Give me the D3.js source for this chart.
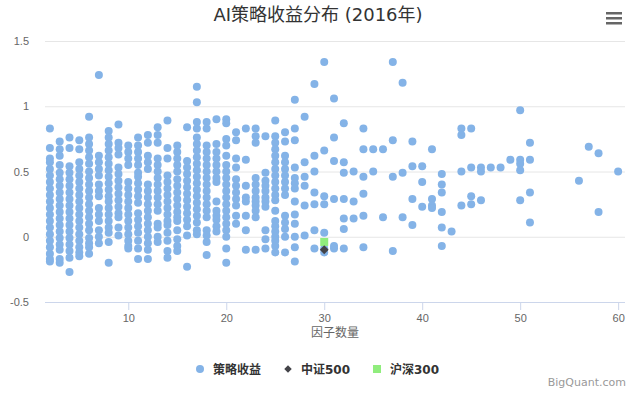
<!DOCTYPE html>
<html lang="zh">
<head>
    <meta charset="UTF-8">
    <title>AI策略收益分布 (2016年)</title>
    <style>
        body {
            margin: 0;
            background: #fff;
            font-family: "Lucida Grande", "Lucida Sans Unicode", "DejaVu Sans", "Noto Sans CJK SC", sans-serif;
        }
        .tick text {
            fill: #666;
            font-size: 11px;
        }
    </style>
</head>
<body>
    <div id="chart"></div>

    <script src="https://d3js.org/d3.v7.min.js"></script>
    <script>
        const width = 636;
        const height = 395;
        const margin = { top: 41, right: 11, bottom: 93, left: 45 };

        // number of factors used, and the strategy returns seen for that count
        const factorCounts = [2, 3, 4, 5, 6, 7, 8, 9, 10, 11, 12, 13, 14, 15, 16, 17, 18, 19, 20,
            21, 22, 23, 24, 25, 26, 27, 28, 29, 30, 31, 32, 33, 34, 35, 36, 37, 38, 39, 40,
            41, 42, 43, 44, 45, 46, 47, 48, 49, 50, 51, 56, 57, 58, 60];

        const strategyReturns = [
            [0.83, 0.68, 0.6, 0.57, 0.52, 0.47, 0.42, 0.37, 0.32, 0.27, 0.22, 0.17, 0.12, 0.07, 0.02, -0.03, -0.08, -0.13, -0.17, -0.19],
            [0.73, 0.67, 0.62, 0.55, 0.49, 0.44, 0.39, 0.34, 0.29, 0.24, 0.19, 0.14, 0.09, 0.04, -0.01, -0.06, -0.1, -0.17, -0.2],
            [0.76, 0.68, 0.54, 0.49, 0.44, 0.39, 0.34, 0.29, 0.24, 0.19, 0.14, 0.09, 0.04, -0.01, -0.06, -0.11, -0.16, -0.27],
            [0.74, 0.67, 0.57, 0.52, 0.47, 0.42, 0.37, 0.32, 0.27, 0.22, 0.17, 0.12, 0.07, 0.02, -0.03, -0.08, -0.12, -0.15],
            [0.92, 0.76, 0.71, 0.66, 0.61, 0.56, 0.5, 0.45, 0.4, 0.35, 0.3, 0.25, 0.2, 0.15, 0.1, 0.05, -0.01, -0.05, -0.08, -0.13],
            [1.24, 0.62, 0.57, 0.52, 0.47, 0.4, 0.35, 0.31, 0.22, 0.17, 0.12, 0.05, 0.0, -0.05],
            [0.81, 0.76, 0.71, 0.66, 0.61, 0.56, 0.51, 0.46, 0.41, 0.36, 0.31, 0.27, 0.22, 0.17, 0.12, 0.07, 0.03, -0.04, -0.2],
            [0.86, 0.72, 0.68, 0.63, 0.53, 0.48, 0.43, 0.38, 0.33, 0.28, 0.23, 0.18, 0.15, 0.07, 0.01],
            [0.7, 0.65, 0.6, 0.55, 0.42, 0.37, 0.32, 0.27, 0.22, 0.17, 0.12, 0.07, 0.02, -0.03, -0.07, -0.09],
            [0.76, 0.7, 0.65, 0.6, 0.55, 0.49, 0.46, 0.41, 0.36, 0.31, 0.26, 0.18, 0.13, 0.08, 0.03, -0.03, -0.09, -0.17],
            [0.78, 0.72, 0.62, 0.57, 0.52, 0.4, 0.35, 0.3, 0.25, 0.2, 0.15, 0.1, 0.05, 0.0, -0.05, -0.1, -0.17],
            [0.84, 0.78, 0.72, 0.6, 0.55, 0.5, 0.45, 0.4, 0.35, 0.3, 0.25, 0.2, 0.1, 0.07, 0.0, -0.04],
            [0.89, 0.68, 0.6, 0.47, 0.42, 0.37, 0.32, 0.27, 0.22, 0.17, 0.12, 0.09, 0.03, -0.03, -0.11, -0.16],
            [0.7, 0.65, 0.6, 0.55, 0.5, 0.44, 0.39, 0.34, 0.29, 0.24, 0.19, 0.15, 0.12, 0.05, -0.02, -0.07, -0.11],
            [0.84, 0.58, 0.53, 0.48, 0.43, 0.38, 0.33, 0.28, 0.23, 0.18, 0.13, 0.08, 0.01, -0.23],
            [1.15, 1.03, 0.88, 0.83, 0.76, 0.71, 0.66, 0.61, 0.56, 0.51, 0.46, 0.41, 0.36, 0.31, 0.26, 0.21, 0.16, 0.11, 0.05, 0.02],
            [0.88, 0.83, 0.7, 0.65, 0.6, 0.55, 0.5, 0.45, 0.4, 0.35, 0.3, 0.25, 0.2, 0.15, 0.05, 0.01, -0.04, -0.14],
            [0.9, 0.71, 0.65, 0.6, 0.55, 0.5, 0.45, 0.42, 0.27, 0.2, 0.16, 0.13, 0.08, 0.04],
            [0.9, 0.87, 0.75, 0.7, 0.62, 0.55, 0.5, 0.45, 0.4, 0.35, 0.3, 0.25, 0.2, 0.15, 0.1, 0.05, 0.0, -0.09, -0.2],
            [0.8, 0.74, 0.6, 0.53, 0.44, 0.39, 0.34, 0.29, 0.24, 0.16, 0.1],
            [0.83, 0.59, 0.39, 0.3, 0.27, 0.16, 0.05, -0.1],
            [0.83, 0.77, 0.72, 0.45, 0.4, 0.35, 0.3, 0.27, 0.24, 0.2, 0.15, -0.1],
            [0.77, 0.49, 0.43, 0.39, 0.35, 0.3, 0.27, 0.23, 0.05, -0.02, -0.09],
            [0.89, 0.77, 0.72, 0.67, 0.62, 0.57, 0.52, 0.47, 0.42, 0.37, 0.32, 0.28, 0.2, 0.12, 0.08, 0.04, 0.0, -0.03, -0.07, -0.12],
            [0.8, 0.73, 0.62, 0.57, 0.52, 0.47, 0.42, 0.37, 0.32, 0.16, 0.11, 0.06, 0.0, -0.12],
            [1.05, 0.83, 0.74, 0.53, 0.45, 0.41, 0.37, 0.27, 0.17, 0.1, 0.0, -0.08, -0.19],
            [0.92, 0.57, 0.46, 0.39, 0.24, 0.01],
            [1.17, 0.62, 0.5, 0.34, 0.25, 0.05, -0.09],
            [1.34, 0.66, 0.31, 0.25, 0.03, -0.09, -0.12],
            [1.06, 0.76, 0.58, 0.29, -0.07, -0.09],
            [0.87, 0.57, 0.49, 0.29, 0.14, 0.06, -0.09],
            [0.5, 0.27, 0.14],
            [0.83, 0.67, 0.46, 0.33, 0.16, -0.08],
            [0.67, 0.5],
            [0.67, 0.15],
            [1.34, 0.74, 0.46, -0.11],
            [1.18, 0.49, 0.15],
            [0.73, 0.54, 0.29, 0.09],
            [0.54, 0.42, 0.23],
            [0.67, 0.29, 0.24, 0.22],
            [0.48, 0.4, 0.34, 0.19, 0.07, -0.07],
            [0.04],
            [0.83, 0.78, 0.5, 0.24],
            [0.83, 0.53, 0.31, 0.25],
            [0.53, 0.5, 0.28],
            [0.53],
            [0.53],
            [0.59],
            [0.97, 0.59, 0.56, 0.51, 0.28],
            [0.72, 0.59, 0.34, 0.11],
            [0.43],
            [0.69],
            [0.64, 0.19],
            [0.5]
        ];

        // benchmarks, both at 30 factors
        const csi500 = [[30, -0.10]];
        const hs300 = [[30, -0.04]];

        const seriesNames = ["策略收益", "中证500", "沪深300"];
        const seriesColors = ["#84b3e7", "#434348", "#90ed7d"];
        const xTicks = [10, 20, 30, 40, 50, 60];
        const yTicks = [-0.5, 0, 0.5, 1, 1.5];

        const innerW = width - margin.left - margin.right;
        const innerH = height - margin.top - margin.bottom;

        const xScale = d3.scaleLinear()
            .domain([1.5, 60.7])
            .range([0, innerW]);

        const yScale = d3.scaleLinear()
            .domain([-0.5, 1.5])
            .range([innerH, 0]);

        const svg = d3.select('#chart')
            .append('svg')
            .attr('width', width)
            .attr('height', height);

        // title
        svg.append('text')
            .attr('x', width / 2)
            .attr('y', 21)
            .attr('text-anchor', 'middle')
            .style('font-size', '18px')
            .style('fill', '#333')
            .text('AI策略收益分布 (2016年)');

        // context menu icon
        [0, 5, 10].forEach(dy => {
            svg.append('rect')
                .attr('x', 606)
                .attr('y', 12 + dy)
                .attr('width', 16)
                .attr('height', 2.5)
                .attr('fill', '#666');
        });

        const g = svg.append('g')
            .attr('transform', `translate(${margin.left}, ${margin.top})`);

        // grid + y axis
        const yAxis = d3.axisLeft(yScale)
            .tickValues(yTicks)
            .tickFormat(d => String(d))
            .tickSize(-innerW)
            .tickPadding(16);

        g.append('g')
            .attr('class', 'y axis')
            .call(yAxis)
            .call(s => s.select('.domain').remove())
            .call(s => s.selectAll('.tick line').attr('stroke', '#e6e6e6'));

        // x axis
        const xAxis = d3.axisBottom(xScale)
            .tickValues(xTicks)
            .tickSize(8)
            .tickPadding(4);

        g.append('g')
            .attr('class', 'x axis')
            .attr('transform', `translate(0, ${innerH})`)
            .call(xAxis)
            .call(s => s.select('.domain').attr('stroke', '#ccd6eb').attr('d', `M0,0.5H${innerW}`))
            .call(s => s.selectAll('.tick line').attr('stroke', '#ccd6eb'));

        svg.append('text')
            .attr('x', margin.left + innerW / 2)
            .attr('y', 337)
            .attr('text-anchor', 'middle')
            .style('font-size', '12px')
            .style('fill', '#666')
            .text('因子数量');

        // strategy points
        const points = [];
        factorCounts.forEach((n, i) => {
            strategyReturns[i].forEach(r => points.push([n, r]));
        });

        g.append('g')
            .selectAll('circle')
            .data(points)
            .enter()
            .append('circle')
            .attr('cx', d => xScale(d[0]))
            .attr('cy', d => yScale(d[1]))
            .attr('r', 4)
            .attr('fill', seriesColors[0]);

        // benchmarks
        g.append('g')
            .selectAll('rect')
            .data(hs300)
            .enter()
            .append('rect')
            .attr('x', d => xScale(d[0]) - 4)
            .attr('y', d => yScale(d[1]) - 4)
            .attr('width', 8)
            .attr('height', 8)
            .attr('fill', seriesColors[2]);

        g.append('g')
            .selectAll('path')
            .data(csi500)
            .enter()
            .append('path')
            .attr('d', d3.symbol().type(d3.symbolDiamond2).size(50))
            .attr('transform', d => `translate(${xScale(d[0])}, ${yScale(d[1])})`)
            .attr('fill', seriesColors[1]);

        // legend
        const legendX = [200, 288, 377];
        const legendY = 369;
        const legend = svg.append('g');

        legend.append('circle')
            .attr('cx', legendX[0]).attr('cy', legendY).attr('r', 4)
            .attr('fill', seriesColors[0]);
        legend.append('path')
            .attr('d', d3.symbol().type(d3.symbolDiamond2).size(36))
            .attr('transform', `translate(${legendX[1]}, ${legendY})`)
            .attr('fill', seriesColors[1]);
        legend.append('rect')
            .attr('x', legendX[2] - 4).attr('y', legendY - 4)
            .attr('width', 8).attr('height', 8)
            .attr('fill', seriesColors[2]);

        seriesNames.forEach((name, i) => {
            legend.append('text')
                .attr('x', legendX[i] + 13)
                .attr('y', legendY + 4.5)
                .style('font-size', '12px')
                .style('font-weight', 'bold')
                .style('fill', '#333')
                .text(name);
        });

        // credits
        svg.append('text')
            .attr('x', 626)
            .attr('y', 386)
            .attr('text-anchor', 'end')
            .style('font-size', '11px')
            .style('fill', '#999')
            .text('BigQuant.com');
    </script>
</body>
</html>
